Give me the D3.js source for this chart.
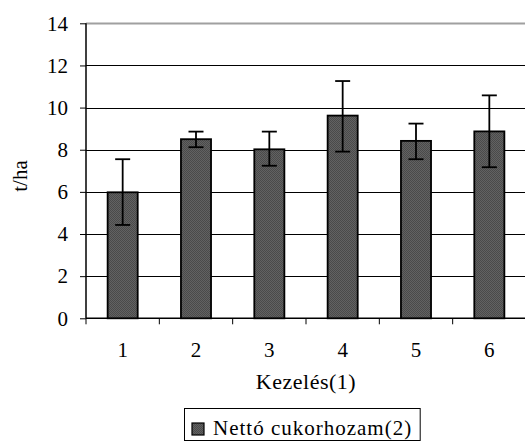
<!DOCTYPE html>
<html><head><meta charset="utf-8">
<script src="https://cdn.jsdelivr.net/npm/d3@7"></script>
</head><body style="margin:0"><svg id="c" width="525" height="448" font-family="Liberation Serif"></svg>
<script>
const categories = ["1","2","3","4","5","6"];
const values = [5.98, 8.5, 8.02, 9.62, 8.42, 8.87];
const errLow = [4.43, 8.12, 7.24, 7.91, 7.55, 7.17];
const errHigh = [7.55, 8.86, 8.86, 11.26, 9.24, 10.58];
const yTicks = [0,2,4,6,8,10,12,14];
const seriesName = "Nettó cukorhozam(2)";

const FF = '"Liberation Serif"';
const FS = 21;
const svg = d3.select("#c");
const L = 86, R = 526, T = 23.3, B = 318.3;
const x = d3.scaleBand().domain(categories).range([L, R]).paddingInner(0.59).paddingOuter(0.295);
const y = d3.scaleLinear().domain([0,14]).range([B, T]);

const defs = svg.append("defs");
const pat = defs.append("pattern").attr("id","dots").attr("width",2).attr("height",2).attr("patternUnits","userSpaceOnUse");
pat.append("rect").attr("width",2).attr("height",2).attr("fill","#626262");
pat.append("rect").attr("width",1).attr("height",1).attr("fill","#4a4a4a");
pat.append("rect").attr("x",1).attr("y",1).attr("width",1).attr("height",1).attr("fill","#4a4a4a");

function txt(sel, size){ return sel.attr("font-size", size).style("font-family", FF).attr("fill","#000"); }

// gridlines
svg.append("g").selectAll("line").data(yTicks.filter(d=>d>0)).join("line")
  .attr("x1",L).attr("x2",R).attr("y1",d=>Math.round(y(d))+0.5).attr("y2",d=>Math.round(y(d))+0.5)
  .attr("stroke",d=>d===14?"#a0a0a0":"#000").attr("stroke-width",d=>d===14?2:1);

// y axis
const ya = svg.append("g").attr("transform",`translate(${L},0)`)
  .call(d3.axisLeft(y).tickValues(yTicks).tickSize(6).tickPadding(12).tickFormat(d3.format("d")));
ya.attr("font-family", null).attr("font-size", null);
ya.select(".domain").attr("stroke","#000").attr("stroke-width",1.5).attr("d",`M0,${y(14)}V${B}`);
txt(ya.selectAll("text"), FS);

// x axis with ticks at band boundaries
const xa = svg.append("g").attr("transform",`translate(0,${B})`);
xa.append("line").attr("x1",L).attr("x2",R).attr("stroke","#000").attr("stroke-width",1.5);
const step = x.step();
const bounds = d3.range(categories.length+1).map(i=>L + i*step);
xa.selectAll("line.t").data(bounds).join("line").attr("class","t")
  .attr("x1",d=>d).attr("x2",d=>d).attr("y1",0).attr("y2",6).attr("stroke","#000");
txt(xa.selectAll("text").data(categories).join("text")
  .attr("x",d=>x(d)+x.bandwidth()/2).attr("y",39).attr("text-anchor","middle").text(d=>d), FS);

// bars
svg.append("g").selectAll("rect").data(values).join("rect")
  .attr("x",(d,i)=>x(categories[i])).attr("width",x.bandwidth())
  .attr("y",d=>y(d)).attr("height",d=>B-y(d))
  .attr("fill","url(#dots)").attr("stroke","#000").attr("stroke-width",1.8);

// error bars
const eg = svg.append("g").attr("stroke","#000").attr("stroke-width",1.8);
categories.forEach((c,i)=>{
  const cx = x(c)+x.bandwidth()/2;
  eg.append("line").attr("x1",cx).attr("x2",cx).attr("y1",y(errLow[i])).attr("y2",y(errHigh[i]));
  eg.append("line").attr("x1",cx-7.5).attr("x2",cx+7.5).attr("y1",y(errLow[i])).attr("y2",y(errLow[i]));
  eg.append("line").attr("x1",cx-7.5).attr("x2",cx+7.5).attr("y1",y(errHigh[i])).attr("y2",y(errHigh[i]));
});

// axis titles
txt(svg.append("text").attr("x",306).attr("y",389).attr("text-anchor","middle").attr("letter-spacing",0.5).text("Kezelés(1)"), FS+1);
txt(svg.append("text").attr("transform","translate(27,176) rotate(-90)").attr("text-anchor","middle").text("t/ha"), FS);

// legend
const lg = svg.append("g");
const box = lg.append("rect").attr("x",184.5).attr("y",408.5).attr("height",32).attr("fill","#fff").attr("stroke","#000");
lg.append("rect").attr("x",192).attr("y",423).attr("width",12).attr("height",12).attr("fill","url(#dots)").attr("stroke","#000").attr("stroke-width",1.2);
const lt = txt(lg.append("text").attr("x",213).attr("y",435).attr("letter-spacing",1).text(seriesName), FS);
const tw = lt.node().getComputedTextLength();
box.attr("width", 213 + tw + 8 - 184.5);
</script></body></html>
